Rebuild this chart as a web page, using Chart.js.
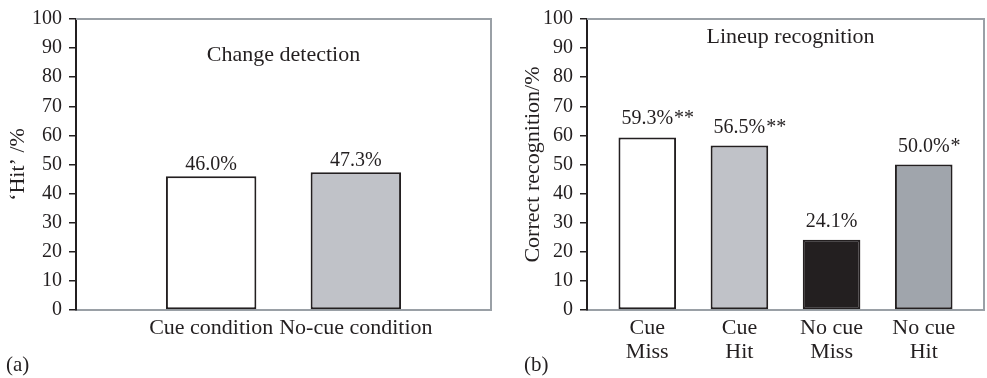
<!DOCTYPE html>
<html>
<head>
<meta charset="utf-8">
<script src="https://cdn.jsdelivr.net/npm/chart.js@4.4.1/dist/chart.umd.min.js"></script>
<style>
  body { margin: 0; background: #fff; }
  #wrap { position: relative; width: 987px; height: 378px; font-family: "Liberation Serif", serif; }
  .panel { position: absolute; top: 0; height: 378px; }
  .tag { position: absolute; top: 352px; font-size: 21px; color: #231f20; }
</style>
</head>
<body>
<div id="wrap">
  <div class="panel" style="left:0;width:500px"><canvas id="chartA"></canvas></div>
  <div class="panel" style="left:500px;width:487px"><canvas id="chartB"></canvas></div>
  <div class="tag" style="left:6px">(a)</div>
  <div class="tag" style="left:524px">(b)</div>
</div>
<script>
// panel (a) data
const catsA = ["Cue condition", "No-cue condition"];
const valuesA = [46.0, 47.3];
const marksA = ["", ""];

// panel (b) data
const catsB = [["Cue", "Miss"], ["Cue", "Hit"], ["No cue", "Miss"], ["No cue", "Hit"]];
const valuesB = [59.3, 56.5, 24.1, 50.0];
const marksB = ["**", "**", "", "*"];

const yTicks = [0, 10, 20, 30, 40, 50, 60, 70, 80, 90, 100];

const ink = "#231f20";
const frameGrey = "#9aa0a6";
const font = "Liberation Serif";

// grey top/right frame, title inside plot, value labels
const panelPlugin = {
  id: "panel",
  afterDraw(chart, args, opts) {
    const { ctx, chartArea: a } = chart;
    ctx.save();
    ctx.strokeStyle = frameGrey;
    ctx.lineWidth = 2;
    ctx.beginPath();
    ctx.moveTo(a.left, a.top);
    ctx.lineTo(a.right, a.top);
    ctx.lineTo(a.right, a.bottom);
    ctx.stroke();

    ctx.fillStyle = ink;
    ctx.font = "22px '" + font + "'";
    ctx.textAlign = "center";
    ctx.textBaseline = "middle";
    ctx.fillText(opts.title, (a.left + a.right) / 2 + opts.titleShift, a.top + opts.titleY);

    ctx.font = "20px '" + font + "'";
    ctx.textBaseline = "alphabetic";
    const meta = chart.getDatasetMeta(0);
    meta.data.forEach((bar, i) => {
      const txt = opts.values[i].toFixed(1) + "%";
      const y = bar.y - opts.gap;
      ctx.textAlign = "center";
      ctx.fillText(txt, bar.x, y);
      if (opts.marks[i]) {
        const w = ctx.measureText(txt).width;
        ctx.textAlign = "left";
        ctx.fillText(opts.marks[i], bar.x + w / 2 + 1, y);
      }
    });
    ctx.restore();
  }
};

function makeChart(id, cats, values, marks, colors, cfg) {
  const points = values.map((v, i) => ({ x: i + 1, y: v }));
  return new Chart(document.getElementById(id), {
    type: "bar",
    data: {
      datasets: [{
        data: points,
        backgroundColor: colors,
        borderColor: ink,
        borderWidth: 2,
        borderSkipped: false,
        categoryPercentage: 1,
        barPercentage: 0.625
      }]
    },
    options: {
      responsive: true,
      maintainAspectRatio: false,
      animation: false,
      layout: { padding: { left: 0, right: cfg.padRight, top: 19, bottom: 0 } },
      plugins: {
        legend: { display: false },
        tooltip: { enabled: false },
        panel: { title: cfg.title, titleY: cfg.titleY, titleShift: cfg.titleShift, values: values, marks: marks, gap: cfg.gap }
      },
      scales: {
        x: {
          type: "linear",
          offset: false,
          min: cfg.xMin,
          max: cfg.xMax,
          afterBuildTicks: s => { s.ticks = cats.map((c, i) => ({ value: i + 1 })); },
          afterFit: s => { s.height = 68; },
          grid: { display: false, drawTicks: false },
          border: { color: frameGrey, width: 2 },
          ticks: {
            autoSkip: false,
            maxRotation: 0,
            padding: 6,
            color: ink,
            font: { family: font, size: 22, lineHeight: 1.1 },
            callback: v => cats[v - 1]
          }
        },
        y: {
          min: 0,
          max: 100,
          afterBuildTicks: s => { s.ticks = yTicks.map(v => ({ value: v })); },
          afterFit: s => { s.width = cfg.yWidth; },
          grid: { drawOnChartArea: false, drawTicks: true, tickLength: 7, color: ink, lineWidth: 1.5 },
          border: { color: ink, width: 2, z: 1 },
          ticks: { color: ink, padding: 7, font: { family: font, size: 20 } },
          title: {
            display: true,
            text: cfg.yTitle,
            color: ink,
            padding: { top: cfg.yTitlePad, bottom: 0 },
            font: { family: font, size: 22, lineHeight: 1.2 }
          }
        }
      }
    },
    plugins: [panelPlugin]
  });
}

makeChart("chartA", catsA, valuesA, marksA, ["#ffffff", "#c0c2c8"], {
  title: "Change detection", titleY: 36, titleShift: 0, gap: 6,
  padRight: 9, yWidth: 76, yTitle: "\u2018Hit\u2019 /%", yTitlePad: 5,
  xMin: 0.066, xMax: 2.934
});

makeChart("chartB", catsB, valuesB, marksB, ["#ffffff", "#c0c2c8", "#231f20", "#a0a5ac"], {
  title: "Lineup recognition", titleY: 18, titleShift: 5, gap: 13,
  padRight: 3, yWidth: 87, yTitle: "Correct recognition/%", yTitlePad: 20,
  xMin: 0.346, xMax: 4.654
});
</script>
</body>
</html>
